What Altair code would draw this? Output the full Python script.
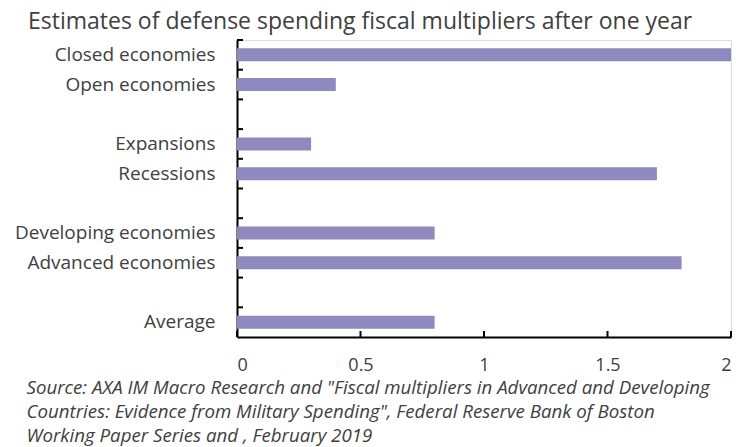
import altair as alt
import pandas as pd

title_text = "Estimates of defense spending fiscal multipliers after one year"
source_lines = [
    "Source:  AXA IM Macro Research and \"Fiscal multipliers in Advanced and Developing",
    "Countries: Evidence from Military Spending\", Federal Reserve Bank of Boston",
    "Working Paper Series and , February 2019",
]

row_order = [
    "Closed economies", "Open economies", " ",
    "Expansions", "Recessions", "  ",
    "Developing economies", "Advanced economies", "   ",
    "Average",
]
categories = ["Closed economies", "Open economies", "Expansions", "Recessions",
              "Developing economies", "Advanced economies", "Average"]
values = [2.0, 0.4, 0.3, 1.7, 0.8, 1.8, 0.8]
x_ticks = [0, 0.5, 1, 1.5, 2]

W, H = 494, 297
FONT = "Open Sans"
TXT = "#404040"
BAR = "#8E8ABF"

bars_df = pd.DataFrame({"category": categories, "value": values})
rows_df = pd.DataFrame({"category": row_order})
xt_df = pd.DataFrame({"t": x_ticks})

yscale = alt.Scale(domain=row_order, paddingInner=0, paddingOuter=0)
xscale = alt.Scale(domain=[0, 2], nice=False, zero=True)

bars = alt.Chart(bars_df).mark_bar(size=13, color=BAR).encode(
    x=alt.X("value:Q", scale=xscale,
            axis=alt.Axis(values=x_ticks, format="~g", ticks=False, grid=False,
                          domain=True, domainColor="#000000", domainWidth=2,
                          labelFont=FONT, labelFontSize=18, labelColor=TXT,
                          labelPadding=19,
                          title=source_lines, titleFont=FONT, titleFontSize=18.7,
                          titleFontStyle="italic", titleFontWeight="normal",
                          titleColor=TXT, titleAnchor="start", titleAlign="left",
                          titleBaseline="alphabetic", titleX=-211, titleY=56,
                          titleLineHeight=24, titleLimit=0)),
    y=alt.Y("category:N", scale=yscale, sort=row_order,
            axis=alt.Axis(ticks=False, grid=False, domain=True,
                          domainColor="#000000", domainWidth=2,
                          labelFont=FONT, labelFontSize=19, labelColor=TXT,
                          labelPadding=22, labelLimit=0, title=None)),
)

yticks = alt.Chart(rows_df).mark_rule(color="#000000", strokeWidth=2).encode(
    y=alt.Y("category:N", scale=yscale, sort=row_order, bandPosition=0),
    x=alt.value(0),
    x2=alt.value(6),
)

xticks = alt.Chart(xt_df).mark_rule(color="#000000", strokeWidth=2).encode(
    x=alt.X("t:Q", scale=xscale),
    y=alt.value(H),
    y2=alt.value(H - 6),
)

chart = alt.layer(bars, yticks, xticks).properties(
    width=W, height=H,
    title=alt.TitleParams(title_text, font=FONT, fontSize=23, fontWeight="normal",
                          color=TXT, anchor="start", frame="group", dx=-209,
                          dy=25, baseline="alphabetic", offset=12, limit=0),
    autosize=alt.AutoSizeParams(type="none"),
    padding={"left": 237, "top": 40, "right": 5, "bottom": 110},
).configure_view(stroke=None).configure(background="white")

chart.save("out.html", embed_options={"renderer": "svg", "actions": False})
